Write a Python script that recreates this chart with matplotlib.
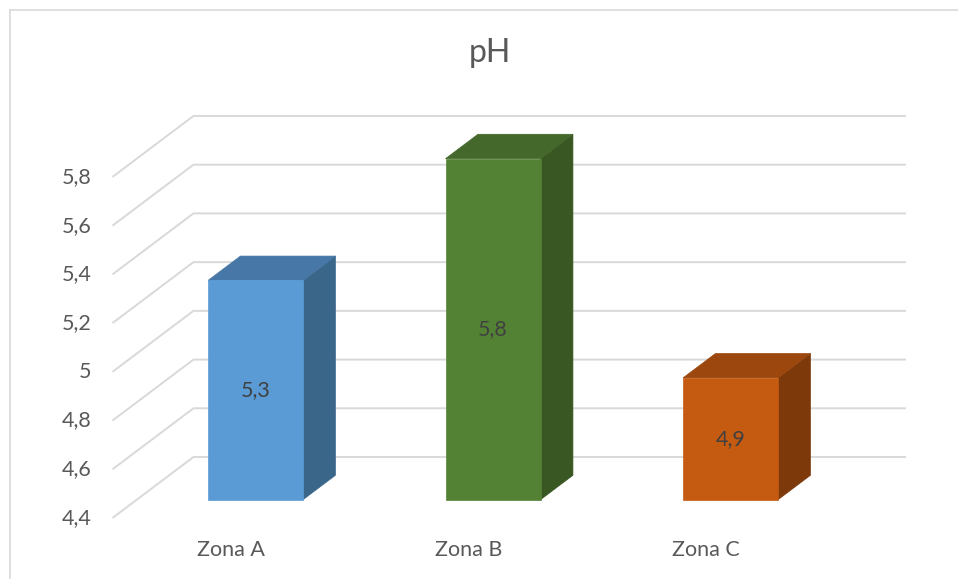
import matplotlib
matplotlib.use("Agg")
import matplotlib.pyplot as plt
from matplotlib.patches import Polygon
from matplotlib.lines import Line2D

plt.rcParams['font.family'] = ['Lato', 'DejaVu Sans']

# Data
categories = ["Zona A", "Zona B", "Zona C"]
ph_values = [5.3, 5.8, 4.9]
y_ticks = [4.4, 4.6, 4.8, 5.0, 5.2, 5.4, 5.6, 5.8]
y_tick_labels = ["4,4", "4,6", "4,8", "5", "5,2", "5,4", "5,6", "5,8"]
value_labels = ["5,3", "5,8", "4,9"]
title = "pH"

# Face colours: front, top, side
face_colors = [
    ("#5B9BD5", "#4677A6", "#3A668A"),
    ("#548235", "#44672B", "#385723"),
    ("#C55A11", "#9C470D", "#7D390A"),
]

W, H = 958, 579
fig = plt.figure(figsize=(W / 100, H / 100), dpi=100)
fig.patch.set_facecolor("white")
ax = fig.add_axes([0, 0, 1, 1])
ax.set_axis_off()

# Oblique projection: category / value plane with depth offset
Y0 = y_ticks[0]
ax.set_xlim(-0.9735, 3.060)
ax.set_ylim(4.1496, 6.5265)
DX, DY = 0.341, 0.2504          # shift of the back wall (full depth)
BAR_W = 0.4
Z0, Z1 = 0.30, 0.70             # bar depth span


def proj(x, y, z):
    return (x + z * DX, y + z * DY)


grid_col = "#D9D9D9"
x_left, x_right = -0.5, len(categories) - 0.5

# Side wall diagonals and back wall gridlines
for v in y_ticks:
    pts = [proj(x_left, v, 0), proj(x_left, v, 1), proj(x_right, v, 1)]
    ax.add_line(Line2D([p[0] for p in pts], [p[1] for p in pts],
                       color=grid_col, lw=1.4, solid_capstyle="butt", zorder=1))

# Value axis labels
for v, lab in zip(y_ticks, y_tick_labels):
    ax.annotate(lab, xy=proj(x_left, v, 0), xytext=(-15, 0),
                textcoords="offset points", ha="right", va="center",
                fontsize=15.5, color="#595959")

# 3D bars
for i, (v, (cf, ct, cs)) in enumerate(zip(ph_values, face_colors)):
    xl, xr = i - BAR_W / 2, i + BAR_W / 2
    front = [proj(xl, Y0, Z0), proj(xr, Y0, Z0), proj(xr, v, Z0), proj(xl, v, Z0)]
    top = [proj(xl, v, Z0), proj(xr, v, Z0), proj(xr, v, Z1), proj(xl, v, Z1)]
    side = [proj(xr, Y0, Z0), proj(xr, Y0, Z1), proj(xr, v, Z1), proj(xr, v, Z0)]
    ax.add_patch(Polygon(side, closed=True, facecolor=cs, edgecolor=cs, lw=0.5, zorder=3))
    ax.add_patch(Polygon(top, closed=True, facecolor=ct, edgecolor=ct, lw=0.5, zorder=3))
    ax.add_patch(Polygon(front, closed=True, facecolor=cf, edgecolor=cf, lw=0.5, zorder=4))
    ax.text(*proj(i, (Y0 + v) / 2, Z0), value_labels[i], ha="center", va="center",
            fontsize=15.5, color="#404040", zorder=5)

# Category labels
for i, cat in enumerate(categories):
    ax.annotate(cat, xy=proj(i, Y0, 0), xytext=(0, -23), textcoords="offset points",
                ha="center", va="center", fontsize=15.5, color="#595959")

# Title
fig.text(490 / W, 1 - 53 / H, title, ha="center", va="center",
         fontsize=23, color="#595959")

# Chart area border (top and left edges)
bx, by = 9.5 / W, 1 - 9.5 / H
fig.add_artist(Line2D([bx, 1], [by, by], transform=fig.transFigure,
                      color="#D9D9D9", lw=1.2))
fig.add_artist(Line2D([bx, bx], [0, by], transform=fig.transFigure,
                      color="#D9D9D9", lw=1.2))

fig.savefig("out.png", dpi=100, facecolor="white")
